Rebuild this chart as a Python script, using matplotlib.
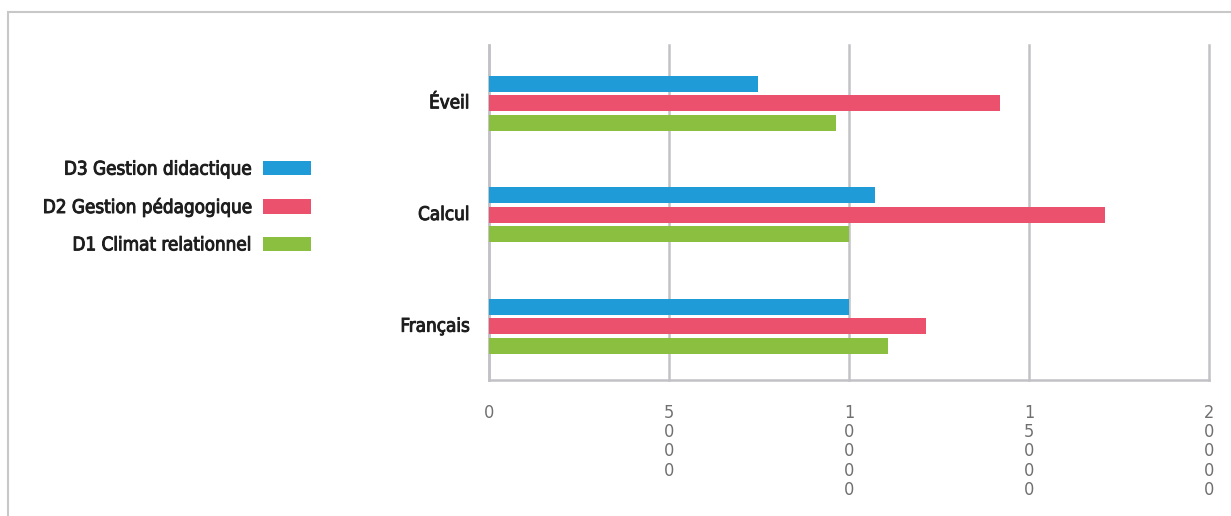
import matplotlib
matplotlib.use('Agg')
import matplotlib.pyplot as plt
import matplotlib.patheffects as pe
from matplotlib import font_manager
from matplotlib.patches import Rectangle
import numpy as np

categories = ['Éveil', 'Calcul', 'Français']
series_names = ['D3 Gestion didactique', 'D2 Gestion pédagogique', 'D1 Climat relationnel']
d3_values = [7480, 10720, 10000]
d2_values = [14200, 17120, 12150]
d1_values = [9650, 10000, 11090]
colors = ['#1f9bd7', '#eb516d', '#8bbf3f']
x_ticks = [0, 5000, 10000, 15000, 20000]

# look for a narrow font
fonts = font_manager.fontManager.ttflist
narrow = [f.name for f in fonts if 'condensed' in str(f.stretch) or 'Narrow' in f.name or 'Condensed' in f.name]
main_font = narrow[0] if narrow else 'Roboto'
stretch = 'condensed' if narrow else 'normal'
plt.rcParams['font.family'] = [main_font, 'DejaVu Sans']
plt.rcParams['font.stretch'] = stretch

txt_col = '#1e1e1e'
thick = [pe.withStroke(linewidth=0.7, foreground=txt_col)]

W, H = 1231, 516
fig = plt.figure(figsize=(W/100.0, H/100.0), dpi=100)
ax = fig.add_axes([489/W, 1-380/H, 720/W, 335/H])

# frame around the figure
fig.patches.append(Rectangle((8/W, -0.1), 1.2, 1-12/H+0.1, transform=fig.transFigure,
                             fill=False, edgecolor='#c8c8c8', linewidth=1.5))

y = np.arange(len(categories))
bh = 0.143
step = 0.175
for k, (vals, name) in enumerate(zip([d3_values, d2_values, d1_values], series_names)):
    ax.barh(y + (k-1)*step + 0.02, vals, height=bh, color=colors[k], label=name, zorder=3)

ax.set_ylim(2.5, -0.5)
ax.set_xlim(0, 20000)
ax.set_xticks(x_ticks)
ax.set_xticklabels(['\n'.join(str(t)) for t in x_ticks], color='#707070', fontsize=13,
                   va='top', linespacing=1.1, fontweight='light')
ax.tick_params(axis='x', length=0, pad=17)
ax.set_yticks(y)
ax.set_yticklabels(categories, fontsize=13.5, color=txt_col)
for t in ax.get_yticklabels():
    t.set_path_effects(thick)
ax.tick_params(axis='y', length=0, pad=14)

ax.grid(axis='x', color='#c2c2c6', linewidth=1.8, zorder=0)
for gl in ax.get_xgridlines():
    gl.set_clip_on(False)
for s in ['top', 'right']:
    ax.spines[s].set_visible(False)
for s in ['left', 'bottom']:
    ax.spines[s].set_color('#c2c2c6')
    ax.spines[s].set_linewidth(1.8)

leg = fig.legend(loc='center right', bbox_to_anchor=(311/W, 1-207/H), frameon=False,
                 markerfirst=False, borderpad=0, borderaxespad=0, handlelength=2.55,
                 handleheight=0.8, handletextpad=0.62, labelspacing=0.98,
                 prop={'size': 13.5}, labelcolor=txt_col)
for t in leg.get_texts():
    t.set_path_effects(thick)

fig.savefig('out.png', dpi=100)
